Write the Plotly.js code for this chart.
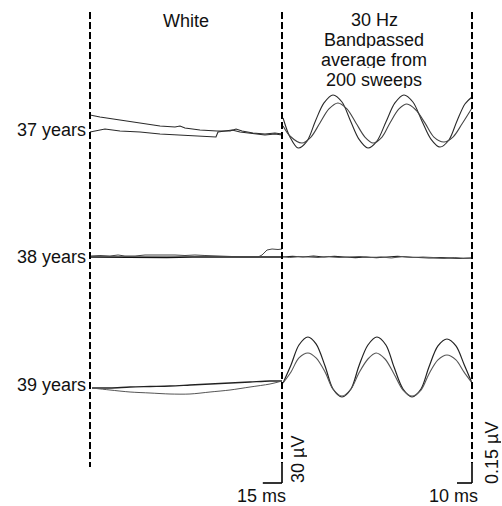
<!DOCTYPE html>
<html>
<head>
<meta charset="utf-8">
<script src="https://cdn.plot.ly/plotly-3.0.1.min.js"></script>
<style>html,body{margin:0;padding:0;background:#fff;}#chart{width:502px;height:506px;}</style>
</head>
<body>
<div id="chart"></div>
<script>
// ---------- DATA ----------
const rowLabels = ["37 years", "38 years", "39 years"];
const panelTitles = ["White", "30 Hz", "Bandpassed", "average from", "200 sweeps"];
const scaleLeft = {ms: 15, uV: 30, msLabel: "15 ms", uVLabel: "30 µV"};
const scaleRight = {ms: 10, uV: 0.15, msLabel: "10 ms", uVLabel: "0.15 µV"};

// White flash responses (time in ms, amplitude in µV)
const w37a_t = [0, 7.8, 23.4, 39.1, 54.7, 66.4, 70.3, 74.2, 85.9, 99.2, 109.4, 114.1, 118.8, 127.3, 136.7, 144.5, 150];
const w37a_v = [22.5, 19.5, 15, 10.5, 6, 4.5, 6, 3, 0, -1.5, -1.5, 1.5, -1.5, -4.5, -6, -4.5, -6];
const w37b_t = [0, 3.9, 11.7, 23.4, 39.1, 54.7, 70.3, 85.9, 98.4, 100, 105.5, 111, 117.2, 128.9, 136.7, 144.5, 150];
const w37b_v = [-3, -1.5, 1.5, -1.5, -3, -6, -7.5, -9, -10.5, -3, -1.5, 0, -3, -6, -7.5, -6, -7.5];

const w38a_t = [0, 20, 40, 60, 80, 100, 120, 140, 150];
const w38a_v = [0, -0.5, 0, -0.5, 0, 0.5, 0, 0, 0];
const w38b_t = [0, 7.8, 15.6, 21.9, 27.3, 35.2, 43, 50.8, 58.6, 66.4, 74.2, 82, 89.8, 97.7, 105.5, 113.3, 121.1, 131.3, 134.4, 138.3, 142.2, 146.9, 150];
const w38b_v = [1.5, 2.25, 1.5, 3, 1.5, 1.5, 3, 3, 3.75, 3, 2.25, 3, 2.25, 1.5, 1.5, 0.75, 0, 0, 3, 10.5, 12, 11.25, 12];

const w39a_t = [1.6, 15.6, 31.3, 46.9, 62.5, 78.1, 93.8, 109.4, 125, 140.6, 150];
const w39a_v = [-4.5, -4.5, -3, -2.25, -1.5, 0, 1.5, 3, 4.5, 6, 6];
const w39b_t = [1.6, 15.6, 31.3, 46.9, 62.5, 78.1, 93.8, 109.4, 125, 140.6, 150];
const w39b_v = [-4.5, -7.5, -10.5, -12, -13.5, -13.5, -10.5, -7.5, -3, 1.5, 6];

// 30 Hz bandpassed averages (time in ms, amplitude in µV)
const f37a_t = [0.7, 5.3, 10.7, 16.7, 22.3, 28.0, 34.0, 40.0, 45.7, 51.3, 57.3, 63.3, 69.3, 75.3, 81.3, 87.3, 93.3, 99.3, 105.3, 111.3, 116.7, 122.0, 126.7];
const f37a_v = [0.09, -0.053, -0.135, -0.083, 0.068, 0.203, 0.263, 0.21, 0.068, -0.068, -0.135, -0.083, 0.06, 0.203, 0.263, 0.21, 0.068, -0.068, -0.128, -0.075, 0.068, 0.195, 0.248];
const f37b_t = [0.7, 5.3, 13.3, 19.3, 25.3, 31.3, 37.3, 43.3, 49.3, 55.3, 60.7, 66.7, 72.0, 78.0, 83.3, 89.3, 95.3, 101.3, 108.0, 114.0, 120.0, 126.7];
const f37b_v = [0.03, -0.045, -0.098, -0.053, 0.053, 0.158, 0.203, 0.158, 0.053, -0.053, -0.098, -0.053, 0.053, 0.158, 0.195, 0.15, 0.053, -0.053, -0.09, -0.053, 0.045, 0.165];

const f38a_t = [0, 7, 14, 21, 28, 35, 42, 49, 56, 63, 70, 77, 84, 91, 98, 105, 112, 119, 126.7];
const f38a_v = [0, 0.004, 0, 0.0075, 0, 0.004, 0, -0.004, 0, -0.004, 0, 0.004, 0, -0.004, -0.0075, -0.004, -0.0075, -0.011, -0.0075];
const f38b_t = [0, 5, 11, 17, 24, 31, 38, 45, 52, 59, 66, 73, 80, 87, 94, 101, 108, 115, 121, 126.7];
const f38b_v = [0.004, -0.004, 0.004, 0, -0.004, 0.004, -0.004, 0, 0.004, -0.004, 0, -0.0075, 0.004, -0.004, 0, -0.004, -0.011, -0.004, -0.011, -0.0075];

const f39a_t = [0.7, 6.0, 11.3, 17.3, 22.7, 28.7, 34.0, 40.0, 46.0, 51.3, 57.3, 63.3, 69.3, 74.7, 80.7, 86.7, 92.7, 98.0, 104.0, 110.0, 116.0, 121.3, 126.7];
const f39a_v = [0.015, 0.15, 0.3, 0.36, 0.308, 0.143, -0.03, -0.09, -0.03, 0.143, 0.3, 0.36, 0.3, 0.135, -0.03, -0.09, -0.03, 0.135, 0.293, 0.345, 0.293, 0.158, 0.015];
const f39b_t = [0.7, 6.0, 11.3, 17.3, 22.7, 28.7, 34.0, 40.0, 46.0, 51.3, 57.3, 62.7, 68.7, 74.7, 80.7, 86.7, 92.7, 98.0, 104.0, 110.0, 116.0, 121.3, 126.7];
const f39b_v = [0.015, 0.098, 0.203, 0.24, 0.203, 0.098, -0.03, -0.083, -0.03, 0.09, 0.195, 0.24, 0.195, 0.083, -0.038, -0.083, -0.038, 0.083, 0.188, 0.225, 0.188, 0.098, 0.015];

// ---------- LAYOUT GEOMETRY ----------
const W = 502, H = 506;
const FONT = "Liberation Sans, Arial, Helvetica, sans-serif";
const px = p => p / W;
const py = p => 1 - p / H;
const xL0 = 90, xM = 282, xR1 = 472;
const rowBase = [130, 257, 385];
const half = 55;                       // half-height of each row band in px
const leftMsRange = 150, rightMsRange = 126.7;
const leftUvPerPx = 1.5, rightUvPerPx = 0.0075;

const layout = {
  width: W, height: H,
  margin: {l: 0, r: 0, t: 0, b: 0},
  paper_bgcolor: "#ffffff", plot_bgcolor: "rgba(0,0,0,0)",
  showlegend: false,
  font: {family: FONT, size: 18, color: "#111"},
  xaxis:  {domain: [px(xL0), px(xM)], range: [0, leftMsRange], visible: false, fixedrange: true, anchor: "y5"},
  xaxis2: {domain: [px(xM), px(xR1)], range: [0, rightMsRange], visible: false, fixedrange: true, anchor: "y6"},
  shapes: [], annotations: []
};
rowBase.forEach((b, i) => {
  const dom = [py(b + half), py(b - half)];
  layout["yaxis" + (2 * i + 1 === 1 ? "" : (2 * i + 1))] = {domain: dom, range: [-half * leftUvPerPx, half * leftUvPerPx], visible: false, fixedrange: true, anchor: "x"};
  layout["yaxis" + (2 * i + 2)] = {domain: dom, range: [-half * rightUvPerPx, half * rightUvPerPx], visible: false, fixedrange: true, anchor: "x2"};
});

// ---------- TRACES ----------
const traceColor = "#2a2a2a";
function tr(t, v, xa, ya, spline, w, c) {
  return {x: t, y: v, xaxis: xa, yaxis: ya, type: "scatter", mode: "lines", hoverinfo: "skip",
    line: {color: c || traceColor, width: w || 1.1, shape: spline ? "spline" : "linear", smoothing: 0.9}};
}
const data = [
  tr(w37a_t, w37a_v, "x", "y"),  tr(w37b_t, w37b_v, "x", "y"),
  tr(f37a_t, f37a_v, "x2", "y2", true), tr(f37b_t, f37b_v, "x2", "y2", true, 1.1, "#444"),
  tr(w38a_t, w38a_v, "x", "y3", false, 1.6, "#111"), tr(w38b_t, w38b_v, "x", "y3", false, 1, "#444"),
  tr(f38a_t, f38a_v, "x2", "y4", false, 1.2, "#222"), tr(f38b_t, f38b_v, "x2", "y4", false, 1, "#555"),
  tr(w39a_t, w39a_v, "x", "y5", true, 1.4, "#222"), tr(w39b_t, w39b_v, "x", "y5", true, 1, "#555"),
  tr(f39a_t, f39a_v, "x2", "y6", true, 1.2, "#222"), tr(f39b_t, f39b_v, "x2", "y6", true, 1.1, "#555")
];

// ---------- SHAPES ----------
const dashSpec = "7px,3px";
const barBottom = 483;
[[xL0, 467], [xM, 463], [xR1, 463]].forEach(([x, yEnd]) => {
  layout.shapes.push({type: "line", xref: "paper", yref: "paper", x0: px(x), x1: px(x), y0: py(12), y1: py(yEnd),
    line: {color: "#000", width: 2, dash: dashSpec}});
});
// scale bars
[[scaleLeft, "x", leftMsRange, leftUvPerPx, xM], [scaleRight, "x2", rightMsRange, rightUvPerPx, xR1]].forEach(([s, xa, maxMs, uvpp, xp]) => {
  layout.shapes.push({type: "line", xref: xa, yref: "paper", x0: maxMs - s.ms, x1: maxMs, y0: py(barBottom), y1: py(barBottom),
    line: {color: "#000", width: 1.6}});
  const lenPx = s.uV / uvpp;
  layout.shapes.push({type: "line", xref: "paper", yref: "paper", x0: px(xp), x1: px(xp), y0: py(barBottom), y1: py(barBottom - lenPx),
    line: {color: "#000", width: 1.6}});
});

// ---------- TEXT ----------
function ann(text, x, y, opts) {
  layout.annotations.push(Object.assign({text: text, xref: "paper", yref: "paper", x: px(x), y: py(y),
    showarrow: false, xanchor: "center", yanchor: "middle", borderpad: 0,
    font: {family: FONT, size: 18, color: "#111"}}, opts || {}));
}
const tight = {height: 17, valign: "middle"};
ann(panelTitles[0], 186, 21);
ann(panelTitles[1], 374, 19.5, tight);
ann(panelTitles[2], 374, 40, tight);
ann(panelTitles[3], 374, 59.5, tight);
ann(panelTitles[4], 374, 80, tight);
rowLabels.forEach((lab, i) => ann(lab, 87, rowBase[i], {xanchor: "right"}));
ann(scaleLeft.msLabel, 261, 496, {height: 18});
ann(scaleRight.msLabel, 453, 496, {height: 18});
ann(scaleLeft.uVLabel, 298, 460, {textangle: -90, height: 18});
ann(scaleRight.uVLabel, 492, 453, {textangle: -90, height: 18});

Plotly.newPlot("chart", data, layout, {staticPlot: true, displayModeBar: false});
</script>
</body>
</html>
